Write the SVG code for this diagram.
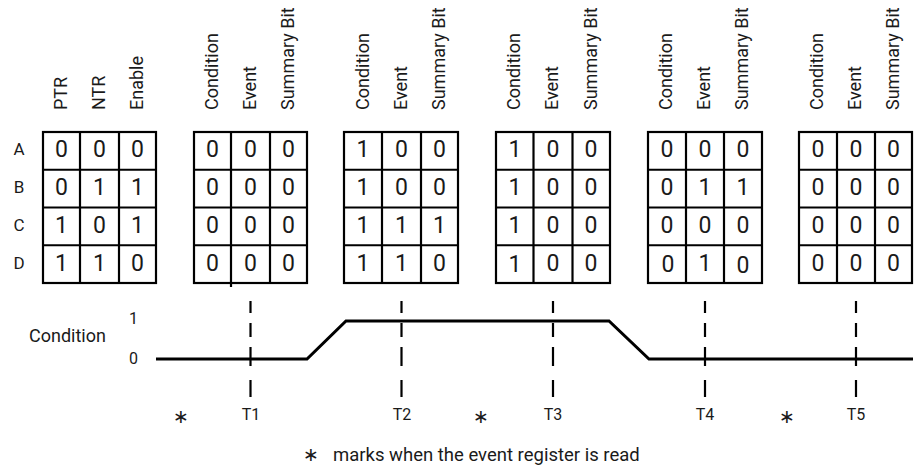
<svg xmlns="http://www.w3.org/2000/svg" width="914" height="471" viewBox="0 0 914 471">
<style>
text{font-family:Roboto,"Liberation Sans",Arial,sans-serif;fill:#1a1a1a}
.hd{font-size:18px}
.rl{font-size:17px;text-anchor:middle}
.d{font-size:23px;text-anchor:middle}
.g rect,.g line{fill:#fff;stroke:#000;stroke-width:2.2}
.lbl{font-size:16px;text-anchor:middle}
.leg{font-size:18.5px}
.wave{fill:none;stroke:#000;stroke-width:3;stroke-linejoin:miter}
.dash{stroke:#000;stroke-width:2.2;stroke-dasharray:12 10 14 10 19 14 17}
.ast{font-family:"DejaVu Sans",sans-serif;font-size:19px;text-anchor:middle}
</style>
<rect width="914" height="471" fill="#fff"/>
<g id="row-labels">
<text class="rl" x="19" y="155">A</text>
<text class="rl" x="19" y="193">B</text>
<text class="rl" x="19" y="231">C</text>
<text class="rl" x="19" y="269">D</text>
</g>
<g id="grid1" class="g">
<text class="hd" transform="translate(67,110) rotate(-90)">PTR</text>
<text class="hd" transform="translate(105,110) rotate(-90)">NTR</text>
<text class="hd" transform="translate(143,110) rotate(-90)">Enable</text>
<rect x="43" y="132" width="113" height="151"/>
<line x1="80" y1="132" x2="80" y2="283"/><line x1="119" y1="132" x2="119" y2="283"/>
<line x1="43" y1="169.75" x2="156" y2="169.75"/><line x1="43" y1="207.5" x2="156" y2="207.5"/><line x1="43" y1="245.25" x2="156" y2="245.25"/>
<text class="d" x="61.5" y="157">0</text><text class="d" x="99.5" y="157">0</text><text class="d" x="137.5" y="157">0</text>
<text class="d" x="61.5" y="195">0</text><text class="d" x="99.5" y="195">1</text><text class="d" x="137.5" y="195">1</text>
<text class="d" x="61.5" y="232.5">1</text><text class="d" x="99.5" y="232.5">0</text><text class="d" x="137.5" y="232.5">1</text>
<text class="d" x="61.5" y="270.5">1</text><text class="d" x="99.5" y="270.5">1</text><text class="d" x="137.5" y="270.5">0</text>
</g>
<g id="grid2" class="g">
<text class="hd" transform="translate(218,110) rotate(-90)">Condition</text>
<text class="hd" transform="translate(256,110) rotate(-90)">Event</text>
<text class="hd" transform="translate(294,110) rotate(-90)">Summary Bit</text>
<rect x="194" y="132" width="113" height="151"/>
<line x1="231" y1="132" x2="231" y2="287"/><line x1="270" y1="132" x2="270" y2="283"/>
<line x1="194" y1="169.75" x2="307" y2="169.75"/><line x1="194" y1="207.5" x2="307" y2="207.5"/><line x1="194" y1="245.25" x2="307" y2="245.25"/>
<text class="d" x="212.5" y="157">0</text><text class="d" x="250.5" y="157">0</text><text class="d" x="288.5" y="157">0</text>
<text class="d" x="212.5" y="195">0</text><text class="d" x="250.5" y="195">0</text><text class="d" x="288.5" y="195">0</text>
<text class="d" x="212.5" y="232.5">0</text><text class="d" x="250.5" y="232.5">0</text><text class="d" x="288.5" y="232.5">0</text>
<text class="d" x="212.5" y="270.5">0</text><text class="d" x="250.5" y="270.5">0</text><text class="d" x="288.5" y="270.5">0</text>
</g>
<g id="grid3" class="g">
<text class="hd" transform="translate(369,110) rotate(-90)">Condition</text>
<text class="hd" transform="translate(407,110) rotate(-90)">Event</text>
<text class="hd" transform="translate(445,110) rotate(-90)">Summary Bit</text>
<rect x="344" y="132" width="114" height="151"/>
<line x1="382" y1="132" x2="382" y2="283"/><line x1="421" y1="132" x2="421" y2="283"/>
<line x1="344" y1="169.75" x2="458" y2="169.75"/><line x1="344" y1="207.5" x2="458" y2="207.5"/><line x1="344" y1="245.25" x2="458" y2="245.25"/>
<text class="d" x="363" y="157">1</text><text class="d" x="401.5" y="157">0</text><text class="d" x="439.5" y="157">0</text>
<text class="d" x="363" y="195">1</text><text class="d" x="401.5" y="195">0</text><text class="d" x="439.5" y="195">0</text>
<text class="d" x="363" y="232.5">1</text><text class="d" x="401.5" y="232.5">1</text><text class="d" x="439.5" y="232.5">1</text>
<text class="d" x="363" y="270.5">1</text><text class="d" x="401.5" y="270.5">1</text><text class="d" x="439.5" y="270.5">0</text>
</g>
<g id="grid4" class="g">
<text class="hd" transform="translate(520,110) rotate(-90)">Condition</text>
<text class="hd" transform="translate(558,110) rotate(-90)">Event</text>
<text class="hd" transform="translate(597,110) rotate(-90)">Summary Bit</text>
<rect x="496" y="132" width="114" height="151"/>
<line x1="533.5" y1="132" x2="533.5" y2="283"/><line x1="572.5" y1="132" x2="572.5" y2="283"/>
<line x1="496" y1="169.75" x2="610" y2="169.75"/><line x1="496" y1="207.5" x2="610" y2="207.5"/><line x1="496" y1="245.25" x2="610" y2="245.25"/>
<text class="d" x="515" y="157">1</text><text class="d" x="553" y="157">0</text><text class="d" x="591" y="157">0</text>
<text class="d" x="515" y="195">1</text><text class="d" x="553" y="195">0</text><text class="d" x="591" y="195">0</text>
<text class="d" x="515" y="232.5">1</text><text class="d" x="553" y="232.5">0</text><text class="d" x="591" y="232.5">0</text>
<text class="d" x="515" y="271.5">1</text><text class="d" x="553" y="270.5">0</text><text class="d" x="591" y="270.5">0</text>
</g>
<g id="grid5" class="g">
<text class="hd" transform="translate(672,110) rotate(-90)">Condition</text>
<text class="hd" transform="translate(710,110) rotate(-90)">Event</text>
<text class="hd" transform="translate(748,110) rotate(-90)">Summary Bit</text>
<rect x="648" y="132" width="114" height="151"/>
<line x1="686" y1="132" x2="686" y2="283"/><line x1="724" y1="132" x2="724" y2="283"/>
<line x1="648" y1="169.75" x2="762" y2="169.75"/><line x1="648" y1="207.5" x2="762" y2="207.5"/><line x1="648" y1="245.25" x2="762" y2="245.25"/>
<text class="d" x="667" y="157">0</text><text class="d" x="705" y="157">0</text><text class="d" x="743" y="157">0</text>
<text class="d" x="667" y="195">0</text><text class="d" x="705" y="195">1</text><text class="d" x="743" y="195">1</text>
<text class="d" x="667" y="232.5">0</text><text class="d" x="705" y="232.5">0</text><text class="d" x="743" y="232.5">0</text>
<text class="d" x="668" y="271.5">0</text><text class="d" x="705" y="270.5">1</text><text class="d" x="743" y="272.5">0</text>
</g>
<g id="grid6" class="g">
<text class="hd" transform="translate(823,110) rotate(-90)">Condition</text>
<text class="hd" transform="translate(861,110) rotate(-90)">Event</text>
<text class="hd" transform="translate(899,110) rotate(-90)">Summary Bit</text>
<rect x="799" y="132" width="113" height="151"/>
<line x1="837" y1="132" x2="837" y2="283"/><line x1="875" y1="132" x2="875" y2="283"/>
<line x1="799" y1="169.75" x2="912" y2="169.75"/><line x1="799" y1="207.5" x2="912" y2="207.5"/><line x1="799" y1="245.25" x2="912" y2="245.25"/>
<text class="d" x="818" y="157">0</text><text class="d" x="856" y="157">0</text><text class="d" x="893.5" y="157">0</text>
<text class="d" x="818" y="195">0</text><text class="d" x="856" y="195">0</text><text class="d" x="893.5" y="195">0</text>
<text class="d" x="818" y="232.5">0</text><text class="d" x="856" y="232.5">0</text><text class="d" x="893.5" y="232.5">0</text>
<text class="d" x="818" y="270.5">0</text><text class="d" x="856" y="270.5">0</text><text class="d" x="893.5" y="270.5">0</text>
</g>
<g id="waveform-labels">
<text class="hd" x="29" y="342">Condition</text>
<text class="lbl" x="133.5" y="323.5">1</text>
<text class="lbl" x="133.5" y="364">0</text>
</g>
<g id="connectors">
<path class="wave" d="M156,359 H307 L346,321 H609 L649,359 H913"/>
<line class="dash" x1="250.5" y1="301" x2="250.5" y2="397"/>
<line class="dash" x1="401.5" y1="301" x2="401.5" y2="397"/>
<line class="dash" x1="553" y1="301" x2="553" y2="397"/>
<line class="dash" x1="705" y1="301" x2="705" y2="397"/>
<line class="dash" x1="856" y1="301" x2="856" y2="397"/>
</g>
<g id="time-labels">
<text class="lbl" x="251" y="420">T1</text>
<text class="lbl" x="402" y="420">T2</text>
<text class="lbl" x="553" y="420">T3</text>
<text class="lbl" x="705" y="420">T4</text>
<text class="lbl" x="856" y="420">T5</text>
<text class="ast" x="181" y="423">∗</text>
<text class="ast" x="481" y="423">∗</text>
<text class="ast" x="787" y="423">∗</text>
</g>
<g id="legend">
<text class="ast" x="311" y="461">∗</text>
<text class="leg" x="333" y="461">marks when the event register is read</text>
</g>
</svg>
